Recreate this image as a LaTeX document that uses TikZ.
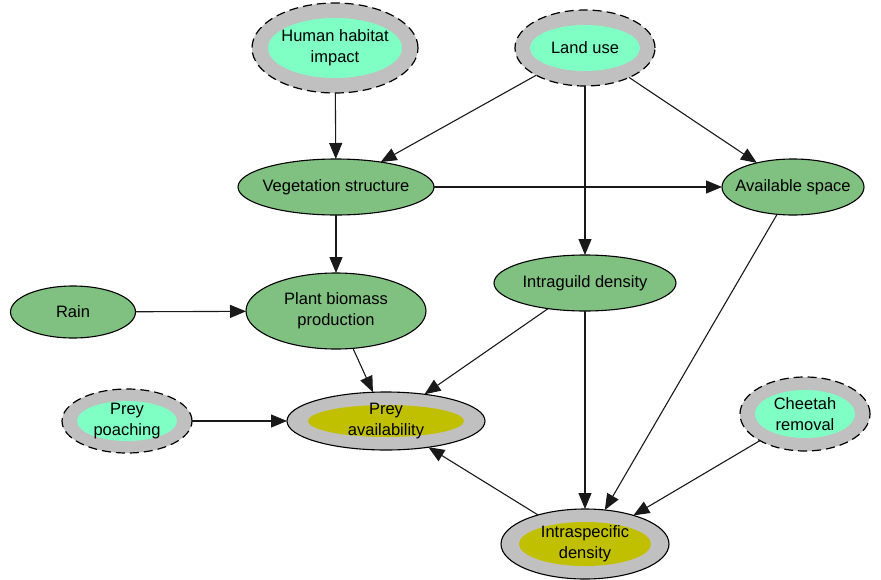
\documentclass[tikz,border=0pt]{standalone}
\usepackage{fontspec}
\setmainfont{Liberation Sans}
\usetikzlibrary{shapes.geometric,arrows.meta}
\definecolor{gfill}{RGB}{128,192,128}
\definecolor{mint}{RGB}{128,255,196}
\definecolor{olive}{RGB}{192,192,0}
\definecolor{ring}{RGB}{192,192,192}
\tikzset{
  base/.style={ellipse, inner sep=0pt, outer sep=0pt},
  every label/.style={font=\fontsize{16.5}{21}\selectfont, align=center, text=black, inner sep=0pt},
  gnode/.style={base, draw=black, line width=1.1pt, fill=gfill},
  outerdash/.style={base, draw=black, line width=1.2pt, fill=ring, dash pattern=on 9pt off 5pt},
  outersolid/.style={base, draw=black, line width=1.1pt, fill=ring},
  innermint/.style={base, fill=mint},
  innerolive/.style={base, fill=olive},
  arr/.style={draw=black!90, line width=1.1pt, -{Triangle[length=16pt,width=13pt]}}
}
\begin{document}
\begin{tikzpicture}[x=1pt,y=-1pt]
\useasboundingbox (0,0) rectangle (881,579);
% double-ring nodes
\node[outerdash, minimum width=166pt, minimum height=90pt] (hhi) at (335,48) {};
\node[innermint, minimum width=134pt, minimum height=60pt, label={center:Human habitat\\impact}] (hhiin) at (335,48) {};
\node[outerdash, minimum width=140pt, minimum height=76pt] (land) at (585,48) {};
\node[innermint, minimum width=110pt, minimum height=46pt, label={center:Land use}] (landin) at (585,48) {};
\node[outerdash, minimum width=130pt, minimum height=64pt] (poach) at (127,421) {};
\node[innermint, minimum width=100pt, minimum height=40pt, label={center:Prey\\poaching}] (poachin) at (127,421) {};
\node[outerdash, minimum width=130pt, minimum height=74pt] (cheetah) at (805,414) {};
\node[innermint, minimum width=100pt, minimum height=48pt, label={center:Cheetah\\removal}] (cheetahin) at (805,414) {};
\node[outersolid, minimum width=198pt, minimum height=58pt] (prey) at (386,421) {};
\node[innerolive, minimum width=156pt, minimum height=32pt, label={center:Prey\\availability}] (preyin) at (386,421) {};
\node[outersolid, minimum width=168pt, minimum height=70pt] (intras) at (585,544) {};
\node[innerolive, minimum width=132pt, minimum height=44pt, label={center:Intraspecific\\density}] (intrasin) at (585,544) {};
% plain green nodes
\node[gnode, minimum width=196pt, minimum height=56pt, label={center:Vegetation structure}] (veg) at (336,187) {};
\node[gnode, minimum width=142pt, minimum height=56pt, label={center:Available space}] (space) at (793,187) {};
\node[gnode, minimum width=125pt, minimum height=52pt, label={center:Rain}] (rain) at (73,312) {};
\node[gnode, minimum width=180pt, minimum height=76pt, label={center:Plant biomass\\production}] (plant) at (336,311) {};
\node[gnode, minimum width=182pt, minimum height=56pt, label={center:Intraguild density}] (guild) at (585,283) {};
% edges
\draw[arr] (hhi) -- (veg);
\draw[arr] (land) -- (veg);
\draw[arr] (land) -- (guild);
\draw[arr] (land) -- (space);
\draw[arr] (veg) -- (space);
\draw[arr] (veg) -- (plant);
\draw[arr] (rain) -- (plant);
\draw[arr] (plant) -- (prey);
\draw[arr] (guild) -- (prey);
\draw[arr] (guild) -- (intras);
\draw[arr] (space) -- (intras);
\draw[arr] (cheetah) -- (intras);
\draw[arr] (intras) -- (prey);
\draw[arr] (poach) -- (prey);
\end{tikzpicture}
\end{document}
